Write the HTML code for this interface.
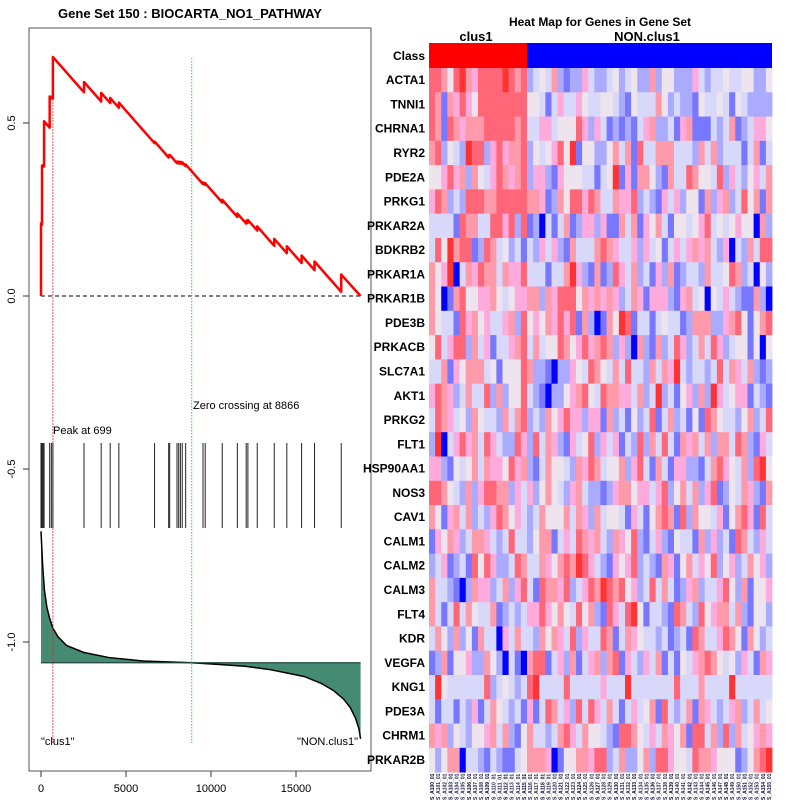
<!DOCTYPE html>
<html><head><meta charset="utf-8">
<style>
html,body{margin:0;padding:0;background:#fff;}
svg{display:block;font-family:"Liberation Sans",sans-serif;}
</style></head>
<body>
<svg id="chart" width="800" height="800" viewBox="0 0 800 800" xmlns="http://www.w3.org/2000/svg">
<text x="190" y="18" text-anchor="middle" font-size="13" font-weight="bold">Gene Set  150 : BIOCARTA_NO1_PATHWAY</text>
<rect x="29" y="28" width="342" height="743" fill="none" stroke="#555" stroke-width="1"/>
<g id="left"></g>
<text x="600" y="26" text-anchor="middle" font-size="12" font-weight="bold">Heat Map for Genes in Gene Set</text>
<text x="476" y="41" text-anchor="middle" font-size="13" font-weight="bold">clus1</text>
<text x="647" y="41" text-anchor="middle" font-size="13" font-weight="bold">NON.clus1</text>
<g id="heat"></g>
</svg>
<script>
// ---- enrichment data ----
const N = 18800;
const hitRanks = [0,60,120,180,510,610,700,2530,3540,4070,4580,6680,7510,7570,8000,8100,8200,8310,8510,9530,9660,10660,11550,12070,12170,12720,13720,14460,15330,16090,17660];
const hitSteps = [0.21,0.17,0.005,0.13,0.09,0.005,0.12,0.03,0.025,0.015,0.015,0.005,0.006,0.005,0.005,0.005,0.005,0.005,0.005,0.005,0.005,0.008,0.01,0.008,0.008,0.012,0.02,0.02,0.022,0.025,0.05];
const metricRanks = [0,100,200,350,500,700,1000,1500,2500,4000,6000,8866,10500,12000,13500,14500,15500,16500,17200,17800,18200,18500,18700,18800];
const metricVals = [-0.68,-0.78,-0.85,-0.90,-0.93,-0.96,-0.985,-1.01,-1.03,-1.045,-1.055,-1.06,-1.065,-1.07,-1.08,-1.09,-1.10,-1.12,-1.14,-1.165,-1.19,-1.22,-1.25,-1.28];
const baseline = -1.06;
const peakRank = 699, zeroCross = 8866;
const xTicks = [0,5000,10000,15000];
const yTicks = [0.5,0.0,-0.5,-1.0];
const yTickLabels = ["0.5","0.0","-0.5","-1.0"];

// ---- heatmap data ----
const genes = ["ACTA1","TNNI1","CHRNA1","RYR2","PDE2A","PRKG1","PRKAR2A","BDKRB2","PRKAR1A","PRKAR1B","PDE3B","PRKACB","SLC7A1","AKT1","PRKG2","FLT1","HSP90AA1","NOS3","CAV1","CALM1","CALM2","CALM3","FLT4","KDR","VEGFA","KNG1","PDE3A","CHRM1","PRKAR2B"];
const nClus1 = 16, nCols = 56;
// levels a(deep blue) .. i(deep red)
const heatRows = [
"hhgehigfhhhhihgh" + "cdedgcbccfdccdecdeccgceecccfdcddeddeecce",
"hgbgfhfehhhhhhhh" + "eedbdfddfeddeedcbedddgecdccbeddedbedcccc",
"hgbhgfggghhhhhgh" + "ddffdeeehfcfdbcbcbdfgccdbfgbbbdcdgbcdffe",
"ghcedcihhcfhfggh" + "cedefheibeeccegdgbhddgggdddcgdgcdddbdgbd",
"eefhfgcgedfhgfgh" + "cffcbfeeeddbdeibfbggecbgddhgeedhcfdcefdg",
"fhgcdchhhgghhhhh" + "ggfbcgehhfhgddgffhcdcbfdfceebgcfgcdhegbg",
"ddddbhggddhhfhch" + "bcadbdgbcffcfbbgdgbfegdbeedefhdedefeeagc",
"dheighhbchgdecdb" + "dcfdfcbgdddghgfddfcfdebdfdfgfgdcfadcgdhh",
"gefiadgfhggdgffh" + "dddbddgifcbgbchfdgcdbfcgbcddcgddehgcdaec",
"geabgheeffgedeff" + "ggcgfhhhegfgfgfcdgfbfffcbfgdeaedfdcbbgca",
"geddbhfgefddfgch" + "efegfhfhbgcabgeihbddbdeddbcgggccfghebeghf",
"ehdfhhcgdfbddfgh" + "dgdeehgefhfghgcfcagcbgcdhfcdgdhfcdeebeae",
"ddgbfegggdebeeeh" + "gccbaccfedhgedgdhddcgdgfidcddcdhdgfdgcbc",
"fhgfcdgddhcgceeh" + "dcbaccefghedhggffdgcdicdbefcgcifdeffbdcb",
"dhgfdecgeddcgdgh" + "cdcgefhffcffbgcdbecdhbdgcdbebhgeddcegcdhe",
"ciadfhfgdhfdcchf" + "chdgfcbfdehcfdfbdchcgdhdbgfgdgcggdhgcbfd",
"ffcbedegdgffehfg" + "cbdgeedcgfhgdeegcfhdbgdbffccbdghfedgchie",
"hhgedcgcfhhggcfd" + "fcegedcfgdccbcfggeffdfhcegdgcfhbcedgfcbg",
"gebfgdgcdcfhgefd" + "cdgeeegdgfcgdeedbfdbeghgbhcgeedfbeghfbhd",
"bfegfcdggfdcdhdd" + "ceggbdfdhgfgdcgfehcbdfcbeddbgcfcdbhgdcfd",
"cdfbcdbhehfccdhg" + "ddgfeghgihfdcbfefhcdcbgfbegdfehcefcdgefc",
"gddcbacgffcdgcfh" + "dbhggfhcdfhgihghefcdhdgdbcfgcddfhecgbeef",
"gdbdhdgeddgbcdcd" + "ffhfegedhegcbhfdhiebddcbhgdchefggdgcbeec",
"dgecgcebgddafdgd" + "dcgegfdhcfddhgbdgfeddcdbcdbhgddfhgebgecd",
"bcgbeefccgecadba" + "ghhbdfcgbdfgcghbfdcfdgbdbedfghgedecfdbgf",
"dieddddddhcdedcd" + "hiddddhdddddfdddidddddddhdddgddddidddddd",
"dbddbdcfbdgedcdb" + "fbdhgdfchdhfdgdbdfdegbhdcdgbgfdcdfgcdgde",
"gfgcedceefgdgcbe" + "gddcdghfdgeedcbhhgedfdgfegbhhdgchcgdefgf",
"eceggaddcbdcbbde" + "gggfabeeggfhhcdgccegchhfeedhggfeeebceghif"
];
const levelColors = {a:"#0000ff",b:"#7777ff",c:"#aaaaff",d:"#d8d8fa",e:"#eee4ee",f:"#ffaadd",g:"#ff9aaa",h:"#ff6677",i:"#ff3333"};
</script>
<script>
const NS = "http://www.w3.org/2000/svg";
function mk(tag, attrs, parent){const e=document.createElementNS(NS,tag);for(const k in attrs)e.setAttribute(k,attrs[k]);parent.appendChild(e);return e;}
const X = r => 41 + r * 0.017;
const Y = v => 296 - v * 346;
const L = document.getElementById('left');

// axes ticks
xTicks.forEach((t,i)=>{
  const ln = mk('line',{x1:X(t),x2:X(t),y1:771,y2:777,stroke:'#333'},L);
  
  
  const tx = mk('text',{x:X(t),y:792,'text-anchor':'middle','font-size':'11'},L);
  tx.textContent = t;
  
  
});
yTicks.forEach((t,i)=>{
  const ln = mk('line',{x1:23,x2:29,y1:Y(t),y2:Y(t),stroke:'#333'},L);
  
  
  const tx = mk('text',{x:0,y:0,'text-anchor':'middle','font-size':'11',transform:`translate(15,${Y(t)}) rotate(-90)`},L);
  tx.textContent = yTickLabels[i];
  
  
});

// metric fill
let pts = metricRanks.map((r,i)=>`${X(r)},${Y(metricVals[i])}`);
const area = mk('polygon',{points:`${X(0)},${Y(baseline)} ${pts.join(' ')} ${X(N)},${Y(baseline)}`,fill:'#458b74',stroke:'none'},L);


const mline = mk('polyline',{points:pts.join(' '),fill:'none',stroke:'#000','stroke-width':1.5},L);


const bl = mk('line',{x1:X(0),x2:X(N),y1:Y(baseline),y2:Y(baseline),stroke:'#244',"stroke-width":1.2},L);



// zero line
const zl = mk('line',{x1:X(0),x2:X(N),y1:Y(0),y2:Y(0),stroke:'#000','stroke-dasharray':'4,3'},L);



// vertical lines
const pl = mk('line',{x1:X(peakRank),x2:X(peakRank),y1:Y(0.69),y2:743,stroke:'#d22','stroke-dasharray':'1.5,1.5'},L);


const zc = mk('line',{x1:X(zeroCross),x2:X(zeroCross),y1:58,y2:743,stroke:'#2d2','stroke-dasharray':'1.5,1.5'},L);



// hits
hitRanks.forEach(r=>{
  const h = mk('line',{x1:X(r),x2:X(r),y1:443,y2:528,stroke:'#222','stroke-width':1},L);
  
  
});

// running enrichment score
const nMiss = N - hitRanks.length;
const total = hitSteps.reduce((a,b)=>a+b,0);
const rate = total / nMiss;
let es = [], cur = 0, prev = 0;
es.push([0,0]);
hitRanks.forEach((r,i)=>{
  cur -= (r-prev)*rate; es.push([r,cur]);
  cur += hitSteps[i]; es.push([r,cur]); prev = r;
});
cur -= (N-prev)*rate; es.push([N,Math.max(cur,0)]);
const esl = mk('polyline',{points:es.map(p=>`${X(p[0])},${Y(p[1])}`).join(' '),fill:'none',stroke:'#f00','stroke-width':2.5,'stroke-linejoin':'round'},L);



// annotations
[["Peak at 699",53,434,'start','peak-label'],["Zero crossing at 8866",193,409,'start','zero-crossing-label'],['"clus1"',41,745,'start','clus1-label'],['"NON.clus1"',358,745,'end','non-clus1-label']].forEach(a=>{
  const t = mk('text',{x:a[1],y:a[2],'text-anchor':a[3],'font-size':'11'},L);
  t.textContent = a[0];
  
  
});

// ---- heatmap ----
const H = document.getElementById('heat');
const hx0 = 429, hx1 = 772, cw = (hx1-hx0)/nCols, rh = 24.28, cy0 = 43, ry0 = 68;
const cr = mk('rect',{x:hx0,y:cy0,width:nClus1*cw,height:ry0-cy0,fill:'#ff0000'},H);


const cb = mk('rect',{x:hx0+nClus1*cw,y:cy0,width:(nCols-nClus1)*cw,height:ry0-cy0,fill:'#0000ff'},H);


const cl = mk('text',{x:425,y:60,'text-anchor':'end','font-size':'12','font-weight':'bold'},H);
cl.textContent = 'Class';


genes.forEach((g,ri)=>{
  const y = ry0 + ri*rh;
  const row = heatRows[ri];
  for(let c=0;c<nCols;c++){
    const ch = row[c] || 'e';
    const r = mk('rect',{x:hx0+c*cw,y:y,width:cw+0.4,height:rh+0.4,fill:levelColors[ch]},H);
    
    
  }
  const t = mk('text',{x:425,y:y+rh/2+4,'text-anchor':'end','font-size':'12','font-weight':'bold'},H);
  t.textContent = g;
  
  
});
for(let c=0;c<nCols;c++){
  const x = hx0 + c*cw + cw/2 + 2;
  const t = mk('text',{x:0,y:0,'font-size':'5','font-weight':'bold',fill:c%3===0?'#003':'#224',transform:`translate(${x},800) rotate(-90)`},H);
  t.textContent = 'S_A'+(100+c)+'_01';
  
  
}
</script>
</body></html>
